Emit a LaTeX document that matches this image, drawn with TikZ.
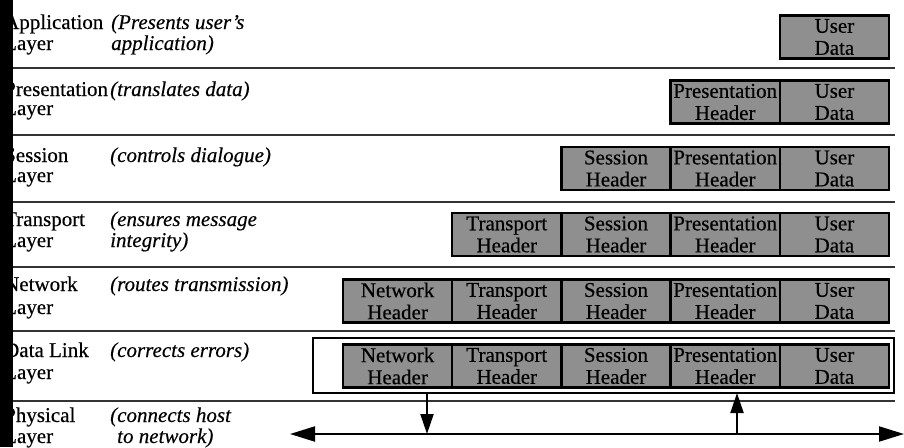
\documentclass[tikz,border=0pt]{standalone}
\usepackage{fontspec}
\setmainfont{Liberation Serif}[FakeBold=0.35]
\usetikzlibrary{arrows.meta}
\definecolor{pdugray}{gray}{0.56}
\definecolor{rulegray}{gray}{0.2}
\begin{document}
\begin{tikzpicture}[x=1pt,y=-1pt,
  txt/.style={font=\fontsize{21}{22}\selectfont},
  lbl/.style={txt, anchor=base west, inner sep=0pt},
  desc/.style={lbl, font=\fontsize{21}{22}\selectfont\itshape},
  pdu/.style={txt, draw=black, line width=2.4pt, fill=pdugray,
    minimum width=109.2pt, minimum height=43pt, inner sep=0pt,
    outer sep=0pt, align=center},
  layersep/.style={draw=rulegray, line width=1.6pt},
  frame/.style={draw=black, line width=2.4pt, minimum width=581pt,
    minimum height=55pt, inner sep=0pt, outer sep=0pt},
  bus/.style={line width=2pt, {Triangle[length=25pt,width=15pt]}-{Triangle[length=25pt,width=15pt]}},
  tap/.style={line width=2pt, -{Triangle[length=20pt,width=13pt]}}
]
\useasboundingbox (0,0) rectangle (904,447);

% layer separators
\foreach \yy in {68,135,202,267,331,401}
  \draw[layersep] (13,\yy) -- (895,\yy);

% layer names and their roles
\node[lbl]  (n1a) at (4,29)  {Application};
\node[lbl]  (n1b) at (4,50)  {Layer};
\node[desc] (d1a) at (111,29) {(Presents user's};
\node[desc] (d1b) at (111,50) {application)};

\node[lbl]  (n2a) at (4,96)  {Presentation};
\node[lbl]  (n2b) at (4,115) {Layer};
\node[desc] (d2a) at (110,96) {(translates data)};

\node[lbl]  (n3a) at (4,162) {Session};
\node[lbl]  (n3b) at (4,182) {Layer};
\node[desc] (d3a) at (110,162) {(controls dialogue)};

\node[lbl]  (n4a) at (4,226) {Transport};
\node[lbl]  (n4b) at (4,247) {Layer};
\node[desc] (d4a) at (110,226) {(ensures message};
\node[desc] (d4b) at (110,247) {integrity)};

\node[lbl]  (n5a) at (4,291) {Network};
\node[lbl]  (n5b) at (4,314) {Layer};
\node[desc] (d5a) at (110,291) {(routes transmission)};

\node[lbl]  (n6a) at (4,357) {Data Link};
\node[lbl]  (n6b) at (4,379) {Layer};
\node[desc] (d6a) at (110,357) {(corrects errors)};

\node[lbl]  (n7a) at (4,422) {Physical};
\node[lbl]  (n7b) at (4,443) {Layer};
\node[desc] (d7a) at (110,422) {(connects host};
\node[desc] (d7b) at (117,443) {to network)};

% encapsulated data units, one row per layer
\node[pdu] (u1) at (834.4,37) {User\\Data};

\node[pdu] (p2) at (725.2,102) {Presentation\\Header};
\node[pdu] (u2) at (834.4,102) {User\\Data};

\node[pdu] (s3) at (616,168.5) {Session\\Header};
\node[pdu] (p3) at (725.2,168.5) {Presentation\\Header};
\node[pdu] (u3) at (834.4,168.5) {User\\Data};

\node[pdu] (t4) at (506.8,234.5) {Transport\\Header};
\node[pdu] (s4) at (616,234.5) {Session\\Header};
\node[pdu] (p4) at (725.2,234.5) {Presentation\\Header};
\node[pdu] (u4) at (834.4,234.5) {User\\Data};

\node[pdu] (w5) at (397.6,301) {Network\\Header};
\node[pdu] (t5) at (506.8,301) {Transport\\Header};
\node[pdu] (s5) at (616,301) {Session\\Header};
\node[pdu] (p5) at (725.2,301) {Presentation\\Header};
\node[pdu] (u5) at (834.4,301) {User\\Data};

\node[frame] (dlframe) at (603.5,365.5) {};
\node[pdu] (w6) at (397.6,366) {Network\\Header};
\node[pdu] (t6) at (506.8,366) {Transport\\Header};
\node[pdu] (s6) at (616,366) {Session\\Header};
\node[pdu] (p6) at (725.2,366) {Presentation\\Header};
\node[pdu] (u6) at (834.4,366) {User\\Data};

% physical medium and the taps onto it
\coordinate (busL) at (290,434);
\coordinate (busR) at (904,434);
\coordinate (txpt) at (427,434);
\coordinate (rxpt) at (737,434);
\draw[bus] (busL) -- (busR);
\draw[tap] (dlframe.south -| txpt) -- (txpt);
\draw[tap] (rxpt) -- (dlframe.south -| rxpt);

% dark edge strip on the left
\fill[black] (0,0) rectangle (13,447);
\end{tikzpicture}
\end{document}
